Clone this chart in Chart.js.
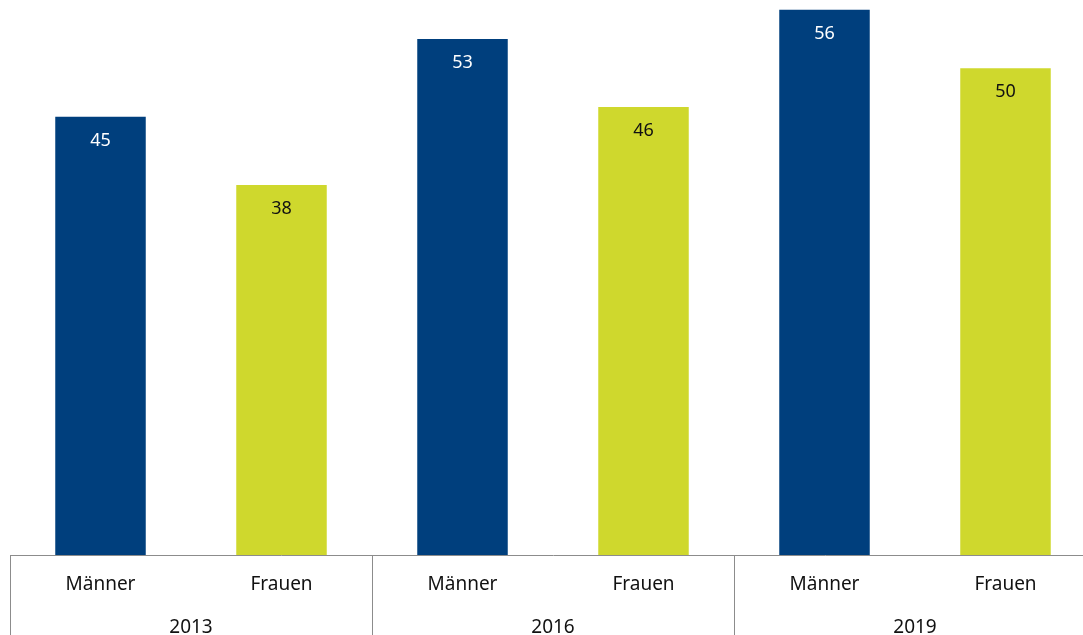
<!DOCTYPE html>
<html>
<head>
<meta charset="utf-8">
<script src="https://cdn.jsdelivr.net/npm/chart.js@4/dist/chart.umd.min.js"></script>
<style>
  html, body { margin: 0; padding: 0; overflow: hidden; background: #ffffff; }
  #wrap { position: absolute; left: 0; top: 0; }
</style>
</head>
<body>
<div id="wrap"><canvas id="c" width="1100" height="637"></canvas></div>
<script>
const categories = ['Männer', 'Frauen', 'Männer', 'Frauen', 'Männer', 'Frauen'];
const years = ['2013', '2016', '2019'];
const values = [45, 38, 53, 46, 56, 50];
const barColors = ['#003F7D', '#CFD82D', '#003F7D', '#CFD82D', '#003F7D', '#CFD82D'];
const labelColors = ['#ffffff', '#111111', '#ffffff', '#111111', '#ffffff', '#111111'];

const FONT = '"Noto Sans", "Open Sans", sans-serif';

const valueLabels = {
  id: 'valueLabels',
  afterDatasetsDraw(chart) {
    const ctx = chart.ctx;
    const meta = chart.getDatasetMeta(0);
    ctx.save();
    ctx.font = '18px ' + FONT;
    ctx.textAlign = 'center';
    ctx.textBaseline = 'middle';
    meta.data.forEach((bar, i) => {
      ctx.fillStyle = labelColors[i];
      ctx.fillText(String(values[i]), bar.x, bar.y + 24);
    });
    ctx.restore();
  }
};

const groupLines = {
  id: 'groupLines',
  afterDraw(chart) {
    const ctx = chart.ctx;
    const x2 = chart.scales.x2;
    const x = chart.scales.x;
    const n = years.length;
    const slot = (x2.right - x2.left) / n;
    ctx.save();
    ctx.strokeStyle = '#8c8c8c';
    ctx.lineWidth = 1;
    for (let i = 0; i <= n; i++) {
      const px = Math.round(x2.getPixelForValue(Math.min(i, n - 1)) + (i === n ? slot / 2 : -slot / 2)) + 0.5;
      ctx.beginPath();
      ctx.moveTo(px, x.top);
      ctx.lineTo(px, chart.height);
      ctx.stroke();
    }
    ctx.restore();
  }
};

new Chart(document.getElementById('c'), {
  type: 'bar',
  data: {
    labels: categories,
    datasets: [{
      data: values,
      backgroundColor: barColors,
      borderWidth: 0,
      barPercentage: 0.5,
      categoryPercentage: 1.0,
      xAxisID: 'x',
      yAxisID: 'y'
    }]
  },
  options: {
    responsive: false,
    animation: false,
    layout: { padding: { left: 10, right: 4, top: 0, bottom: 0 } },
    plugins: {
      legend: { display: false },
      tooltip: { enabled: false }
    },
    scales: {
      y: {
        display: false,
        min: 0,
        max: 57
      },
      x: {
        type: 'category',
        position: 'bottom',
        offset: true,
        grid: { display: false, drawTicks: false },
        border: { display: true, color: '#8c8c8c', width: 1 },
        afterFit(scale) { scale.height = 40; },
        ticks: {
          color: '#111111',
          font: { family: FONT, size: 19 },
          padding: 18,
          maxRotation: 0,
          autoSkip: false
        }
      },
      x2: {
        type: 'category',
        position: 'bottom',
        labels: years,
        offset: true,
        grid: { display: false, drawTicks: false },
        border: { display: false },
        afterFit(scale) { scale.height = 42; },
        ticks: {
          color: '#111111',
          font: { family: FONT, size: 19 },
          padding: 21,
          maxRotation: 0,
          autoSkip: false
        }
      }
    }
  },
  plugins: [valueLabels, groupLines]
});
</script>
</body>
</html>
